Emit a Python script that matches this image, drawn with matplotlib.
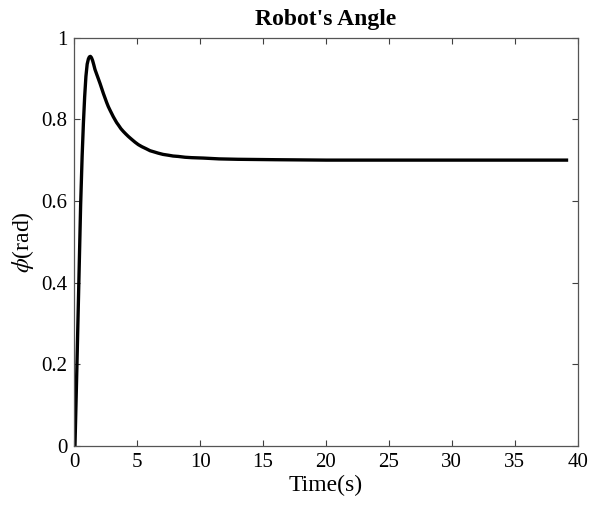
import numpy as np
import matplotlib
matplotlib.use('Agg')
import matplotlib.pyplot as plt

# values
time_s = [0, 0.05, 0.2, 0.35, 0.5, 0.62, 0.72, 0.82, 0.92, 1.02, 1.12, 1.2,
          1.28, 1.36, 1.45, 1.54, 1.64, 1.78, 1.91, 2.05, 2.18, 2.31, 2.44,
          2.57, 2.70, 2.84, 2.97, 3.10, 3.23, 3.36, 3.5, 3.7, 3.9, 4.09,
          4.29, 4.55, 4.82, 5.08, 5.36, 5.7, 6.02, 6.35, 6.67, 7.05, 7.47,
          7.85, 8.26, 8.8, 9.33, 10.25, 11.5, 13, 16, 20, 25, 30, 35, 39.25]
phi_rad = [0, 0.0, 0.19, 0.39, 0.59, 0.71, 0.79, 0.855, 0.905, 0.935, 0.948,
           0.953, 0.954, 0.951, 0.944, 0.934, 0.922, 0.91, 0.899, 0.887,
           0.875, 0.863, 0.852, 0.841, 0.831, 0.822, 0.814, 0.806, 0.799,
           0.792, 0.786, 0.777, 0.770, 0.764, 0.758, 0.751, 0.744, 0.738,
           0.733, 0.728, 0.723, 0.720, 0.717, 0.714, 0.712, 0.710, 0.709,
           0.707, 0.706, 0.705, 0.703, 0.702, 0.701, 0.7, 0.7, 0.7, 0.7, 0.7]

x_ticks = [0, 5, 10, 15, 20, 25, 30, 35, 40]
y_ticks = [0, 0.2, 0.4, 0.6, 0.8, 1]
y_ticklabels = ['0', '0.2', '0.4', '0.6', '0.8', '1']

plt.rcParams['font.family'] = ['Liberation Serif', 'DejaVu Serif']
plt.rcParams['mathtext.fontset'] = 'stix'

fig = plt.figure(figsize=(5.9, 5.15), dpi=100)
ax = fig.add_axes([0.126, 0.134, 0.853, 0.793])

ax.plot(time_s, phi_rad, color='black', linewidth=2.4,
        solid_capstyle='butt', solid_joinstyle='round')

ax.set_xlim(0, 40)
ax.set_ylim(0, 1)
ax.set_xticks(x_ticks)
ax.set_yticks(y_ticks)
ax.set_yticklabels(y_ticklabels)
ax.tick_params(direction='in', length=4, width=0.8, color='#404040',
               top=True, right=True, labelsize=15, pad=5)
for s in ax.spines.values():
    s.set_color('#555555')
    s.set_linewidth(0.9)

ax.set_title("Robot's Angle", fontsize=17, fontweight='bold', pad=9)
ax.set_xlabel('Time(s)', fontsize=17, labelpad=2)
ax.set_ylabel(r'$\phi$(rad)', fontsize=17, labelpad=4)

fig.savefig('out.png', dpi=100)
